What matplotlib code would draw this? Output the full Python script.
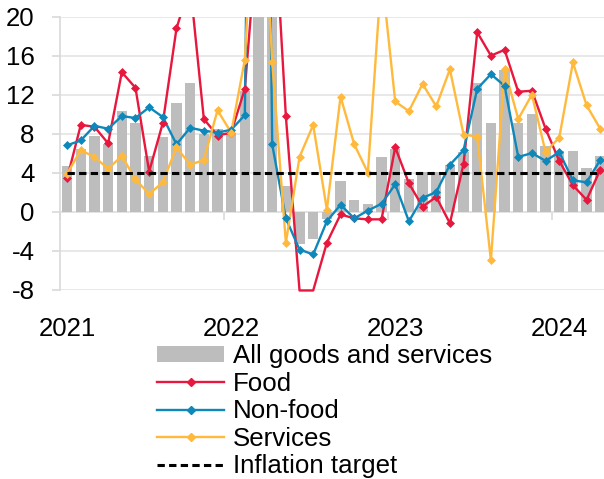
import numpy as np
import matplotlib
matplotlib.use("Agg")
import matplotlib.pyplot as plt
from matplotlib.patches import Rectangle

plt.rcParams['font.family'] = ['Liberation Sans', 'DejaVu Sans']
plt.rcParams['axes.unicode_minus'] = False

# Monthly data, Jan 2021 - Apr 2024 (% SAAR)
all_goods = [4.7, 6.4, 7.8, 6.9, 10.3, 9.1, 5.7, 7.7, 11.1, 13.2,
             8.0, 8.5, 8.0, 12.4, 60.0, 24.0, 2.6, -3.3, -2.8, -0.8,
             3.1, 1.2, 0.8, 5.6, 6.4, 3.3, 4.1, 4.1, 4.8, 6.1,
             13.2, 9.1, 14.5, 9.1, 10.0, 6.7, 6.2, 6.2, 4.5, 5.7]
food = [3.4, 8.9, 8.7, 7.0, 14.3, 12.7, 4.1, 9.1, 18.8, 23.3,
        9.5, 7.8, 8.1, 12.6, 30.0, 34.4, 9.8, -8.1, -8.1, -3.2,
        -0.3, -0.7, -0.8, -0.8, 6.6, 2.9, 0.5, 1.5, -1.2, 4.9,
        18.4, 16.0, 16.6, 12.3, 12.4, 8.5, 5.2, 2.7, 1.2, 4.3]
non_food = [6.8, 7.3, 8.8, 8.5, 9.8, 9.6, 10.7, 9.7, 6.9, 8.6,
            8.3, 8.1, 8.4, 9.9, 130.0, 6.9, -0.7, -3.9, -4.4, -1.0,
            0.7, -0.7, 0.1, 0.8, 2.8, -1.0, 1.4, 2.0, 4.8, 6.3,
            12.6, 14.1, 12.9, 5.6, 6.0, 5.2, 6.1, 3.2, 3.0, 5.3]
services = [3.9, 6.3, 5.6, 4.4, 5.7, 3.3, 1.8, 3.0, 6.6, 4.8,
            5.3, 10.4, 8.1, 15.6, 42.0, 15.4, -3.2, 5.6, 8.9, 0.2,
            11.8, 6.9, 4.0, 24.5, 11.3, 10.3, 13.1, 10.8, 14.6, 7.9,
            7.7, -5.0, 14.6, 9.5, 12.0, 6.1, 7.6, 15.3, 10.9, 8.5]
inflation_target = 4.0
year_labels = ['2021', '2022', '2023', '2024']
months_per_year = 12

labels = ['All goods and services', 'Food', 'Non-food', 'Services', 'Inflation target']
c_bar = '#BDBDBD'
c_food = '#E8173E'
c_nonfood = '#0E87BA'
c_serv = '#FFBA3D'

FS = 18.6
W, H = 604, 479
fig = plt.figure(figsize=(W / 100, H / 100), dpi=100)
ax_left, ax_right, ax_top, ax_bot = 60.3, 604, 16.7, 289.5
ax = fig.add_axes([ax_left / W, 1 - ax_bot / H, (ax_right - ax_left) / W, (ax_bot - ax_top) / H])

ymin, ymax = -8, 20
x = np.arange(len(all_goods))
cat_px = 13.67

bars = ax.bar(x, all_goods, width=0.76, color=c_bar, zorder=2, label=labels[0])

clip = Rectangle((0, -0.012), 1, 1.012, transform=ax.transAxes)
handles = [bars]
for vals, col, lab in [(food, c_food, labels[1]), (non_food, c_nonfood, labels[2]), (services, c_serv, labels[3])]:
    v = np.array(vals, dtype=float)
    ln, = ax.plot(x, v, color=col, lw=1.7, zorder=3)
    ln.set_clip_path(clip)
    ax.plot(x, np.ma.masked_outside(v, ymin, ymax), ls='none', marker='D', ms=4.2,
            color=col, mec=col, mew=0.5, zorder=3.1)
    h, = ax.plot([], [], color=col, lw=1.7, marker='D', ms=4.2, mec=col, label=lab)
    handles.append(h)

ax.hlines(inflation_target, x[0], x[-1], colors='black', lw=2.2,
          linestyles=(0, (2.4, 1.4)), zorder=4)
ht, = ax.plot([], [], color='black', lw=2.2, ls=(0, (2.4, 1.4)), label=labels[4])
handles.append(ht)

ax.set_ylim(ymin, ymax)
ax.set_xlim(-0.5, -0.5 + (ax_right - ax_left) / cat_px)
ax.set_yticks(np.arange(ymin, ymax + 1, 4))
ax.set_yticklabels([str(int(t)) for t in np.arange(ymin, ymax + 1, 4)])
ax.yaxis.grid(True, color='#E4E4E4', lw=1.2)
ax.set_axisbelow(True)

year_pos = [i * months_per_year for i in range(len(year_labels))]
ax.set_xticks(year_pos)
ax.set_xticklabels(year_labels)
ax.tick_params(axis='x', length=0, pad=19.5, labelsize=FS)
ax.tick_params(axis='y', length=6, color='#D9D9D9', width=1.2, pad=12.5, labelsize=FS)

for s in ['top', 'right', 'bottom']:
    ax.spines[s].set_visible(False)
ax.spines['left'].set_color('#D9D9D9')
ax.spines['left'].set_linewidth(1.2)

# category axis crossing at zero, with year-boundary tick marks
sec = ax.secondary_xaxis((0 - ymin) / (ymax - ymin))
sec.set_xticks([p - 0.5 for p in year_pos])
sec.xaxis.set_ticks_position('bottom')
sec.tick_params(axis='x', direction='out', length=6, color='#D9D9D9', width=1.2,
                labelbottom=False, labeltop=False)
for s in sec.spines:
    sec.spines[s].set_visible(s == 'bottom')
sec.spines['bottom'].set_color('#D9D9D9')
sec.spines['bottom'].set_linewidth(1.2)

fig.legend(handles=handles, labels=labels, loc='upper left',
           bbox_to_anchor=(157 / W, 1 - 344 / H), frameon=False, fontsize=FS,
           borderpad=0, borderaxespad=0, handlelength=2.6, handleheight=0.55,
           handletextpad=0.35, labelspacing=0.14)

fig.savefig('out.png', dpi=100)
